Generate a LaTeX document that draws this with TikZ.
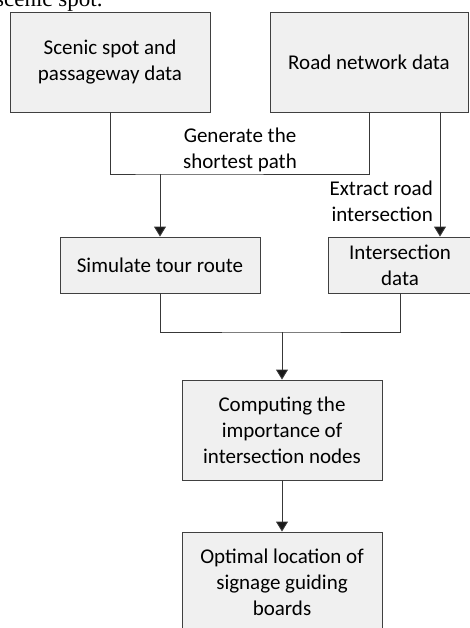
\documentclass[tikz,border=0pt]{standalone}
\usepackage{fontspec}
\setmainfont{Carlito}
\newfontfamily\captionserif{Liberation Serif}
\usetikzlibrary{arrows.meta,shadows}

\tikzset{
  flowbox/.style={draw=black!75,line width=0.9pt,fill=black!6,align=center,
    inner sep=0pt,drop shadow={shadow xshift=1.2pt,shadow yshift=-1.2pt,opacity=0.25}},
  flowline/.style={draw=black!78,line width=0.9pt},
  flowarrow/.style={flowline,-{Triangle[width=12pt,length=10pt,fill=black!90]}}
}

\begin{document}
\begin{tikzpicture}[x=1pt,y=1pt,font=\fontsize{21}{26}\selectfont]
        \useasboundingbox (0,0) rectangle (470,-628);
        \clip (0,0) rectangle (470,-628);

        % cut-off caption line above the figure
        \node[anchor=base west,inner sep=0pt,font=\captionserif\fontsize{23}{26}\selectfont] (cap) at (-5,-7) {scenic spot.};

        \node[flowbox,minimum width=200,minimum height=100] (scenic) at (110,-62) {Scenic spot and\\passageway data};
        \node[flowbox,minimum width=198,minimum height=100] (road) at (369,-62) {Road network data};
        \node[flowbox,minimum width=200,minimum height=56] (sim) at (160,-265) {Simulate tour route};
        \node[flowbox,minimum width=144,minimum height=56] (inter) at (400,-265) {Intersection\\data};
        \node[flowbox,minimum width=200,minimum height=100] (comp) at (282,-430) {Computing the\\importance of\\intersection nodes};
        \node[flowbox,minimum width=200,minimum height=100] (opt) at (282,-582) {Optimal location of\\signage guiding\\boards};

        \coordinate (join1) at (160,-174);
        \coordinate (rx) at (440,-112);
        \coordinate (join2) at (282,-332);

        \draw[flowline] (scenic.south) |- (join1) -| (road.south);
        \draw[flowarrow] (join1) -- (sim.north);
        \draw[flowarrow] (rx) -- (rx |- inter.north);
        \draw[flowline] (sim.south) |- (join2) -| (inter.south);
        \draw[flowarrow] (join2) -- (comp.north);
        \draw[flowarrow] (comp.south) -- (opt.north);

        \node[align=center,inner sep=0pt] (gen) at (240,-150) {Generate the\\shortest path};
        \node[align=right,anchor=east,inner sep=0pt] (ext) at (433,-201) {Extract road\\intersection};
      \end{tikzpicture}
\end{document}
